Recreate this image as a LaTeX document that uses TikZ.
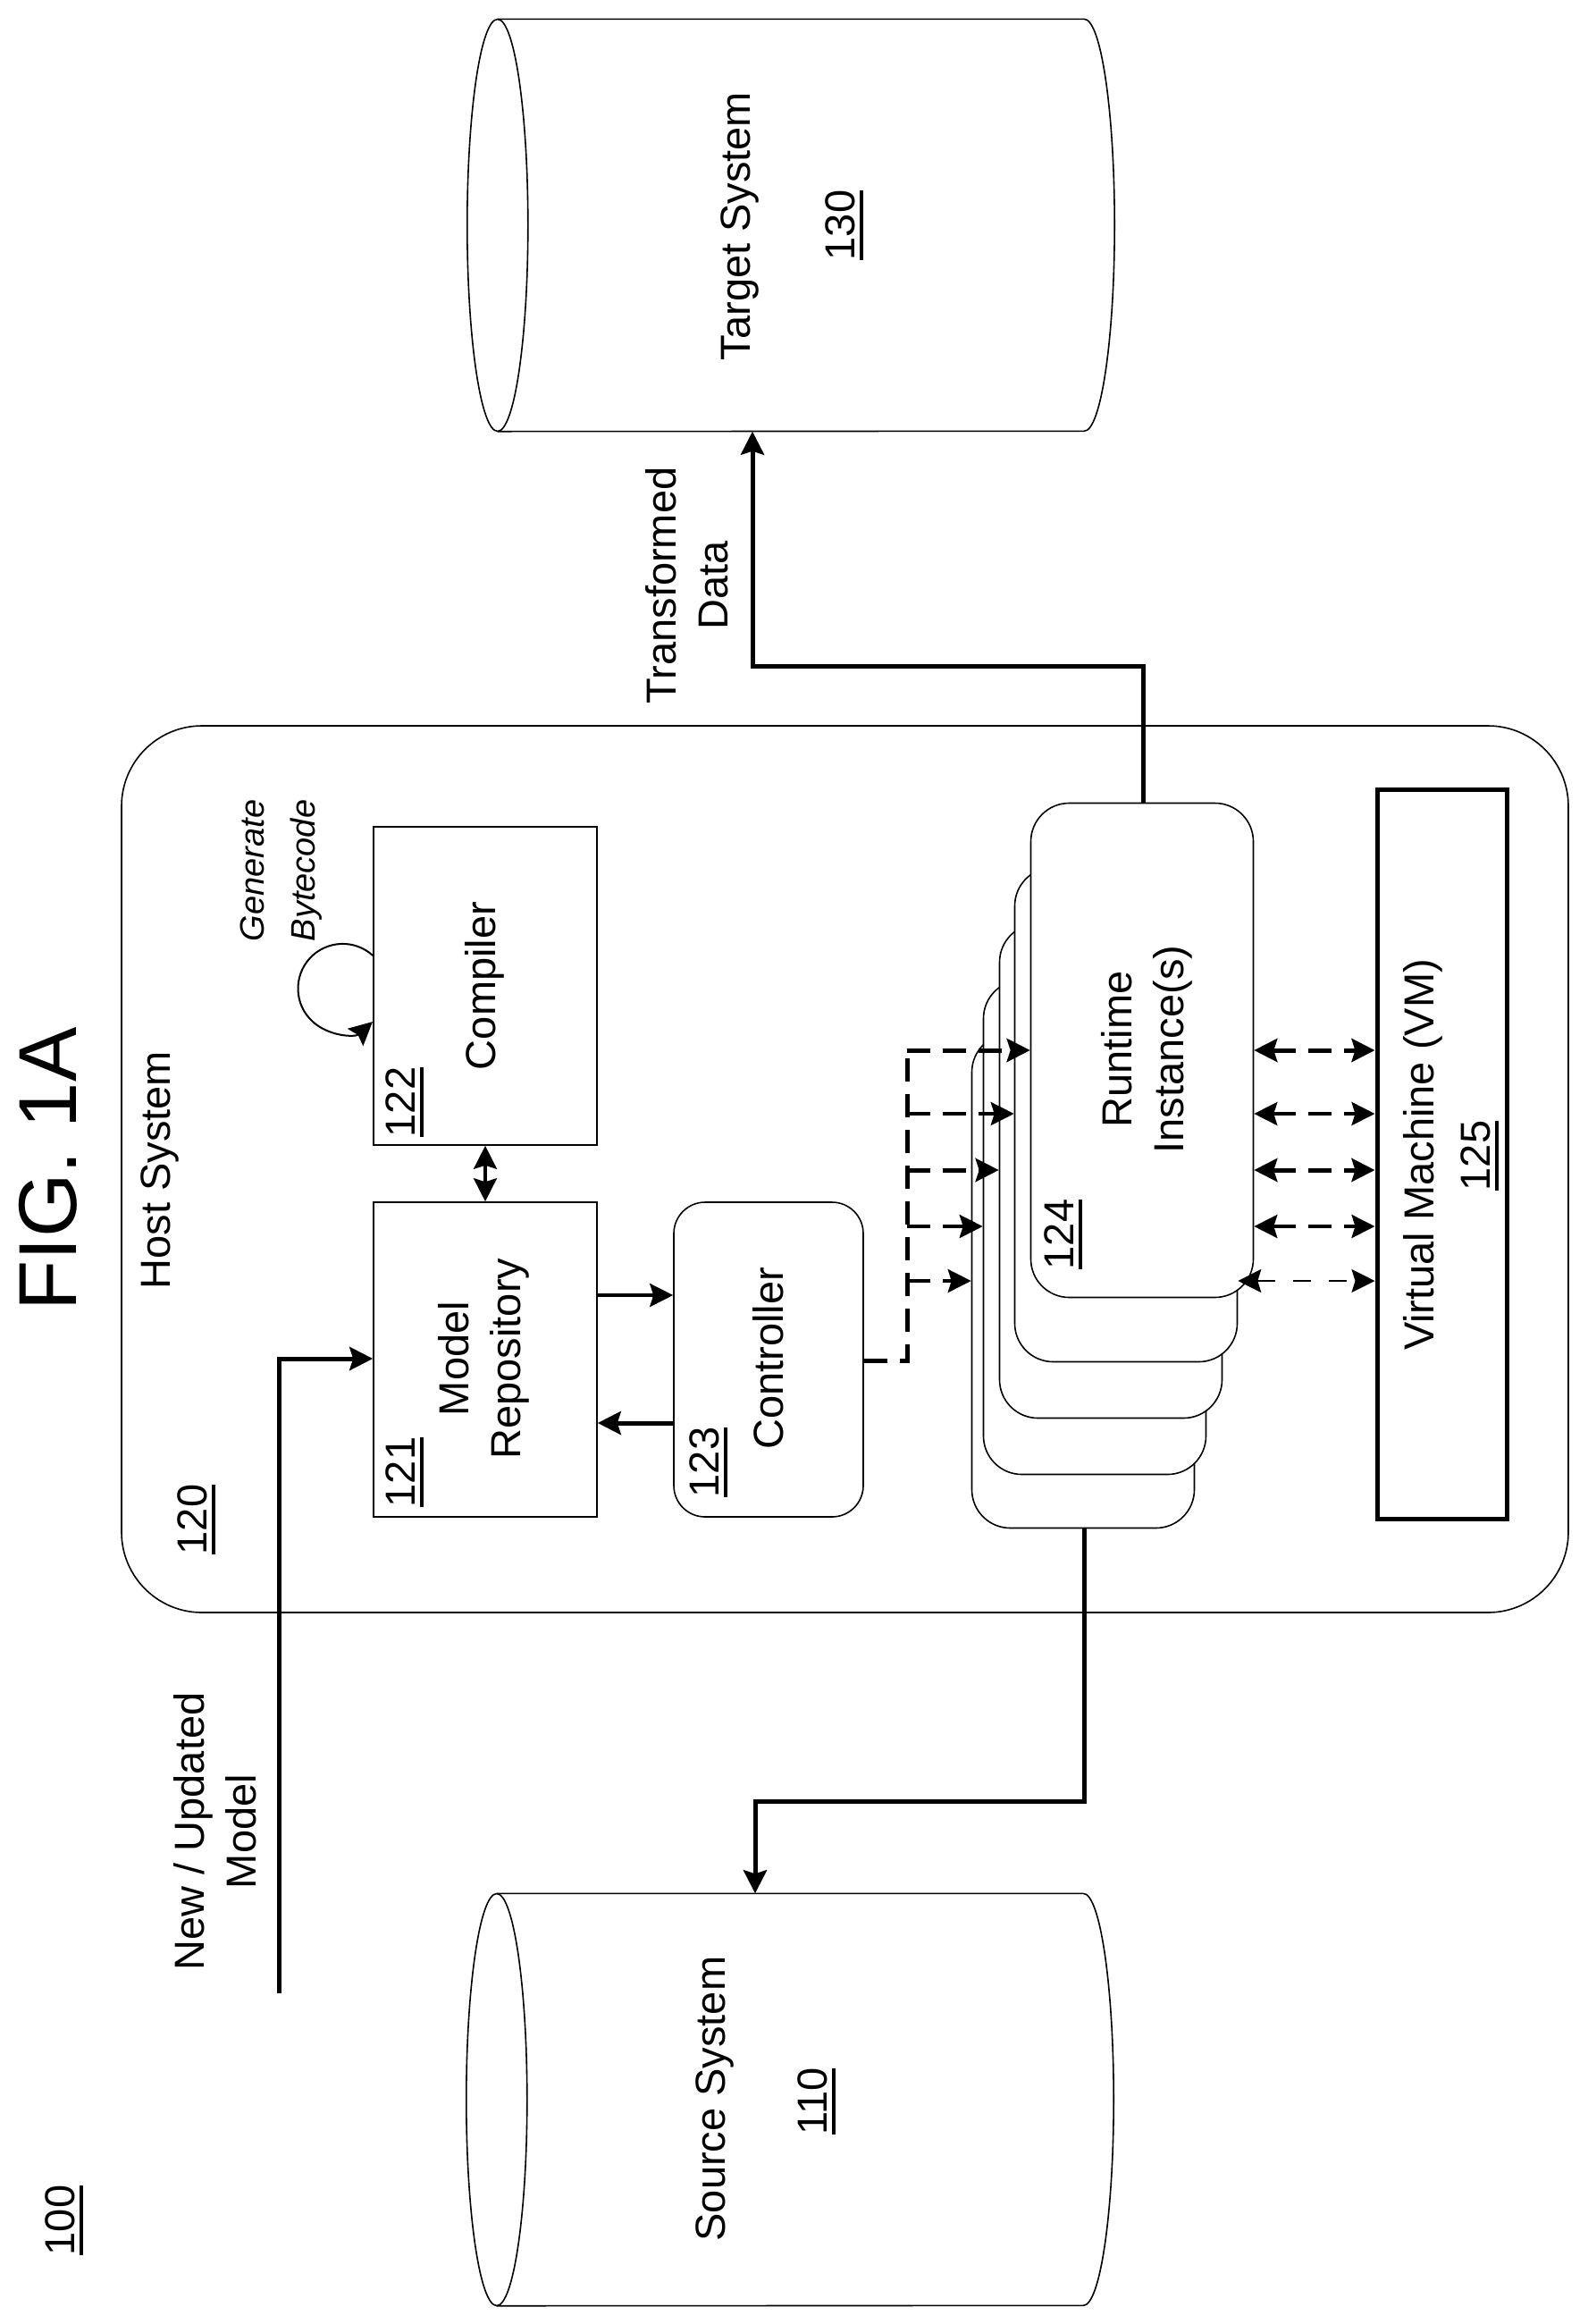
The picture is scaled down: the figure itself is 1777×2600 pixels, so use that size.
\documentclass[tikz,border=0pt]{standalone}
\usepackage{fontspec}
\setmainfont{Liberation Sans}
\usetikzlibrary{arrows.meta,calc}
\newcommand{\ulnum}[1]{\vtop{\hbox{#1}\kern5pt\hrule height 4.5pt}}
\newcommand{\drawcan}[1]{%
  \draw [line width=1.6pt] ($(#1.north west)+(34,0)$) -- ($(#1.north east)+(-34,0)$)
     arc [start angle=-90,end angle=90,x radius=34,y radius=230.5] -- ($(#1.south west)+(34,0)$);
  \draw [line width=1.6pt] ($(#1.west)+(34,0)$) ellipse [x radius=34,y radius=230.5];}
\begin{document}
\begin{tikzpicture}[x=1pt,y=-1pt,>={Stealth[length=26pt,width=26pt,inset=4pt]},
    sysbox/.style={draw,line width=1.6pt,inner sep=0pt,fill=white},
    roundbox/.style={sysbox,rounded corners=#1},
    can/.style={inner sep=0pt,minimum width=724pt,minimum height=461pt},
    lab/.style={rotate=90,align=center,inner sep=0pt,font=\fontsize{47}{58}\selectfont},
    smalllab/.style={lab,font=\itshape\fontsize{38}{57}\selectfont},
    heavy/.style={line width=5pt},
    medium/.style={line width=3.5pt},
    dashline/.style={dash pattern=on 26pt off 14pt}]
      \useasboundingbox (0,0) rectangle (1777,2600);
      \node [can] (target) at (885,252) {};
      \node [can] (source) at (884,2349) {};
      \drawcan{target}
      \drawcan{source}
      \node [roundbox=90pt,minimum width=1619pt,minimum height=992pt] (host) at (945.5,1308) {};
      \node [sysbox,minimum width=250pt,minimum height=356pt] (compiler) at (543,1103) {};
      \node [sysbox,minimum width=250pt,minimum height=352pt] (repo) at (543,1521) {};
      \node [roundbox=35pt,minimum width=212pt,minimum height=352pt] (ctrl) at (860,1521) {};
      \node [sysbox,line width=5pt,minimum width=145pt,minimum height=816pt] (vm) at (1613.5,1291) {};
      % the instances, back one first
      \foreach \n/\cx/\cy in {5/1212/1433,4/1225/1373,3/1243/1310,2/1260/1247,1/1278/1175}
       {\node [roundbox=43pt,minimum width=249pt,minimum height=553pt] (inst\n) at (\cx,\cy) {};}
      \node [lab] (fig) at (54,1308) {\fontsize{92}{92}\selectfont FIG. 1A};
      \node [lab] (hostlab) at (179,1309) {Host System};
      \node [lab] (hostnum) at (220,1700) {\ulnum{120}};
      \node [smalllab] (loop) at (315,974) {Generate\\Bytecode};
      \node [lab] (complab) at (542,1103) {Compiler};
      \node [lab] (compnum) at (453,1233) {\ulnum{122}};
      \node [lab] (repolab) at (541,1520) {Model\\Repository};
      \node [lab] (reponum) at (453,1647) {\ulnum{121}};
      \node [lab] (ctrllab) at (860,1520) {Controller};
      \node [lab] (ctrlnum) at (793,1636) {\ulnum{123}};
      \node [lab] (instlab) at (1283,1174) {Runtime\\Instance(s)};
      \node [lab] (instnum) at (1190,1381) {\ulnum{124}};
      \node [lab] (vmlab) at (1592,1292) {Virtual Machine (VM)};
      \node [lab] (vmnum) at (1656,1293) {\ulnum{125}};
      \node [lab] (targetlab) at (828,253) {Target System};
      \node [lab] (targetnum) at (945,252) {\ulnum{130}};
      \node [lab] (datalab) at (769,655) {Transformed\\Data};
      \node [lab] (sourcelab) at (800,2348) {Source System};
      \node [lab] (sourcenum) at (914,2351) {\ulnum{110}};
      \node [lab] (modellab) at (241,2049) {New / Updated\\Model};
      \node [lab] (fignum) at (72,2484) {\ulnum{100}};
      \coordinate (newstart) at (312,2230);
      \coordinate (newbend) at (312,1520);
      \coordinate (outtop) at (1279,745);
      \coordinate (outtopend) at (842,745);
      \coordinate (outlow) at (1213,2015);
      \coordinate (outlowend) at (845,2015);
      \coordinate (trunk) at (1015,1522);
      \coordinate (trunktop) at (1015,1175);
      \draw [->,heavy] (newstart) -- (newbend) -- (repo.west |- newbend);
      \draw [<->,medium] (compiler.south) -- (repo.north);
      \draw [->,medium] (repo.east |- 0,1449) -- (ctrl.west |- 0,1449);
      \draw [->,heavy] (ctrl.west |- 0,1592) -- (repo.east |- 0,1592);
      \draw [->,line width=2pt] (compiler.west |- 0,1069) arc [start angle=-47.6,end angle=-312,radius=50];
      \draw [->,heavy] (inst1.north -| outtop) -- (outtop) -- (outtopend) -- (target.south -| outtopend);
      \draw [->,heavy] (inst5.south -| outlow) -- (outlow) -- (outlowend) -- (source.north -| outlowend);
      \draw [heavy,dashline] (ctrl.east |- trunk) -- (trunk) -- (trunktop);
      \foreach \n/\y/\w in {1/1175/5pt,2/1246/3.5pt,3/1309/5pt,4/1372/3.5pt,5/1433/3.5pt}
       {\draw [->,dashline,line width=\w] (trunktop |- 0,\y) -- (inst\n.west |- 0,\y);}
      \foreach \n/\y/\w in {1/1175/5pt,1/1246/3.5pt,1/1309/5pt,1/1372/3.5pt}
       {\draw [<->,dashline,line width=\w] (inst\n.east |- 0,\y) -- (vm.west |- 0,\y);}
      \draw [<->,line width=2pt,dash pattern=on 20pt off 20pt] (inst2.east |- 0,1433) -- (vm.west |- 0,1433);
\end{tikzpicture}
\end{document}
